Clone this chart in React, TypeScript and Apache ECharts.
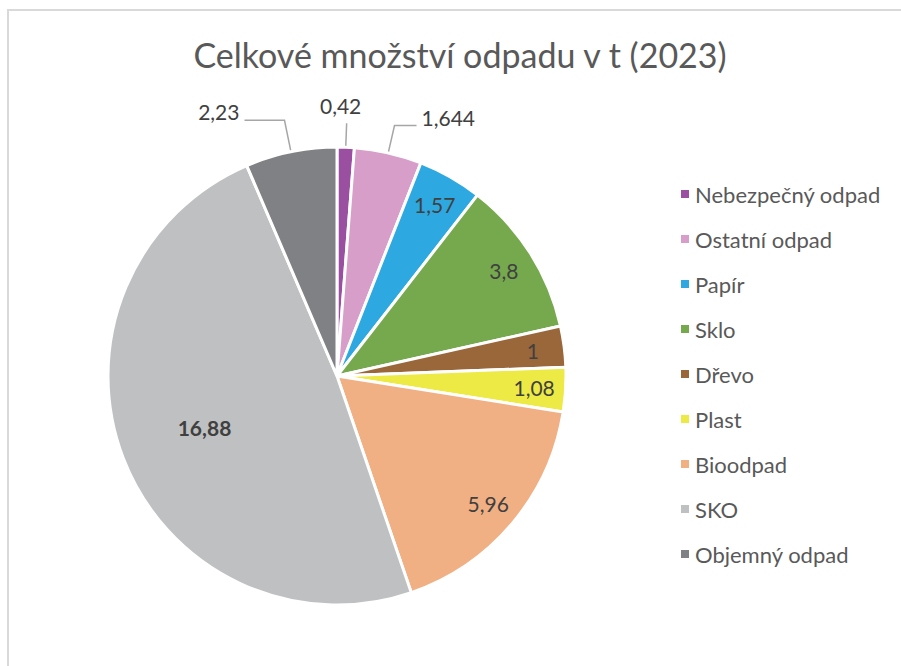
import React, { useEffect, useRef } from "react";
import * as echarts from "echarts";

const categories = [
  "Nebezpečný odpad",
  "Ostatní odpad",
  "Papír",
  "Sklo",
  "Dřevo",
  "Plast",
  "Bioodpad",
  "SKO",
  "Objemný odpad",
];
const values = [0.42, 1.644, 1.57, 3.8, 1, 1.08, 5.96, 16.88, 2.23];
const colors = [
  "#9A4FA0",
  "#D69EC8",
  "#2EA8E0",
  "#76A94E",
  "#9A673B",
  "#EDEA46",
  "#F0B084",
  "#BFC0C2",
  "#808184",
];
// where each value label sits: outside with leader, inside near the rim, or inside centre
const labelModes = ["outside", "outside", "end", "end", "end", "end", "end", "center", "outside"];

const FONT = "Lato, 'Noto Sans', sans-serif";
const fmt = (v: number) => String(v).replace(".", ",");

export default function App() {
  const ref = useRef<HTMLDivElement>(null);
  useEffect(() => {
    if (!ref.current) return;
    const chart = echarts.init(ref.current, undefined, { renderer: "svg" });
    const center = [337, 376];
    const R = 229;
    const leader: Record<number, { length: number; length2: number }> = {
      0: { length: 24, length2: 0 },
      1: { length: 28, length2: 22 },
      8: { length: 32, length2: 40 },
    };
    const mainData = categories.map((name, i) => ({
      name,
      value: values[i],
      itemStyle: { color: colors[i] },
      label: { show: labelModes[i] === "outside" },
      labelLine: { show: labelModes[i] === "outside", ...(leader[i] || {}) },
    }));
    const endData = categories.map((name, i) => ({
      name,
      value: values[i],
      label: { show: labelModes[i] === "end" },
    }));
    const centerData = categories.map((name, i) => ({
      name,
      value: values[i],
      label: { show: labelModes[i] === "center" },
    }));
    const transparentItem = { color: "rgba(0,0,0,0)", borderWidth: 0 };
    const valueLabel = {
      fontFamily: FONT,
      fontSize: 21,
      color: "#404040",
      formatter: (p: any) => fmt(p.value),
    };
    chart.setOption({
      animation: false,
      backgroundColor: "#ffffff",
      title: {
        text: "Celkové množství odpadu v t (2023)",
        left: 455,
        textAlign: "center",
        top: 32,
        textStyle: { fontFamily: FONT, fontSize: 34, fontWeight: "normal", color: "#595959" },
      },
      legend: {
        orient: "vertical",
        left: 674,
        top: 178,
        icon: "rect",
        itemWidth: 10,
        itemHeight: 10,
        itemGap: 23,
        data: categories,
        textStyle: { fontFamily: FONT, fontSize: 22, color: "#595959" },
      },
      graphic: [
        {
          type: "rect",
          shape: { x: 8, y: 10, width: 900, height: 660 },
          style: { fill: "none", stroke: "#D9D9D9", lineWidth: 2 },
          silent: true,
        },
      ],
      series: [
        {
          type: "pie",
          center,
          radius: [0, R],
          startAngle: 90,
          avoidLabelOverlap: false,
          data: mainData,
          itemStyle: { borderColor: "#ffffff", borderWidth: 3 },
          emphasis: { disabled: true },
          label: { ...valueLabel, position: "outside", alignTo: "none", distanceToLabelLine: 5 },
          labelLine: {
            smooth: false,
            lineStyle: { color: "#A6A6A6", width: 1.5 },
          },
          labelLayout: (p: any) => {
            if (p.dataIndex === 0) return { dx: -p.labelRect.width / 2 - 11, dy: -18 };
            if (p.dataIndex === 1) return { dy: -8 };
            if (p.dataIndex === 8) return { dy: -9 };
            return {};
          },
        },
        {
          type: "pie",
          center,
          radius: [160, R],
          startAngle: 90,
          silent: true,
          data: endData,
          itemStyle: transparentItem,
          emphasis: { disabled: true },
          label: { ...valueLabel, position: "inside" },
          labelLine: { show: false },
        },
        {
          type: "pie",
          center,
          radius: [49, R],
          startAngle: 90,
          silent: true,
          data: centerData,
          itemStyle: transparentItem,
          emphasis: { disabled: true },
          label: { ...valueLabel, position: "inside", fontWeight: "bold" },
          labelLine: { show: false },
        },
      ],
    });
    return () => chart.dispose();
  }, []);
  return (
    <div
      ref={ref}
      style={{ position: "absolute", left: 0, top: 0, width: 901, height: 666 }}
    />
  );
}
